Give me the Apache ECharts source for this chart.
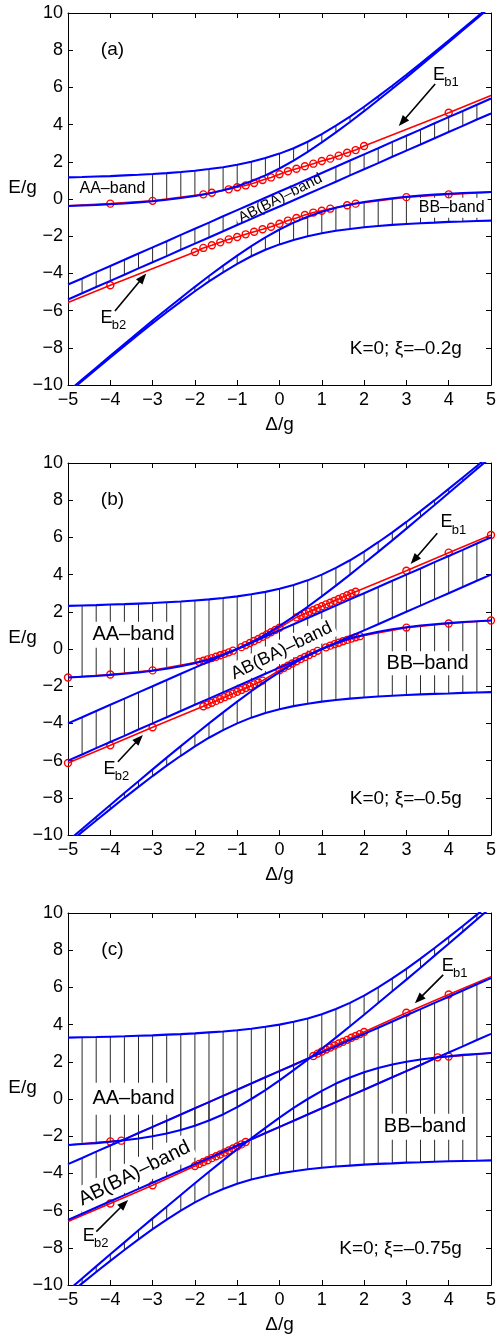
<!DOCTYPE html>
<html><head><meta charset="utf-8">
<script src="https://cdn.jsdelivr.net/npm/echarts@6/dist/echarts.min.js"></script>
<style>html,body{margin:0;padding:0;background:#fff;} #c{width:497px;height:1336px;}</style>
</head><body><div id="c"></div>
<script>
// ---------- data ----------
const deltaGrid = [-5, -4.6667, -4.3333, -4, -3.6667, -3.3333, -3, -2.6667, -2.3333, -2, -1.6667, -1.3333, -1, -0.6667, -0.3333, 0, 0.3333, 0.6667, 1, 1.3333, 1.6667, 2, 2.3333, 2.6667, 3, 3.3333, 3.6667, 4, 4.3333, 4.6667, 5];
const xTicks = [-5, -4, -3, -2, -1, 0, 1, 2, 3, 4, 5];
const yTicks = [-10, -8, -6, -4, -2, 0, 2, 4, 6, 8, 10];

// panel (a), xi = -0.2g
const aaUpA = [1.16, 1.18, 1.21, 1.23, 1.27, 1.30, 1.34, 1.39, 1.45, 1.52, 1.61, 1.71, 1.84, 2.00, 2.20, 2.44, 2.73, 3.08, 3.49, 3.94, 4.43, 4.96, 5.52, 6.09, 6.68, 7.28, 7.90, 8.52, 9.15, 9.78, 10.42];
const aaLoA = [-0.38, -0.35, -0.32, -0.28, -0.24, -0.18, -0.12, -0.04, 0.05, 0.16, 0.30, 0.47, 0.69, 0.95, 1.27, 1.64, 2.06, 2.53, 3.04, 3.58, 4.14, 4.72, 5.32, 5.93, 6.54, 7.17, 7.80, 8.43, 9.07, 9.71, 10.36];
const abUpA = [-4.6, -4.27, -3.93, -3.6, -3.27, -2.93, -2.6, -2.27, -1.93, -1.6, -1.27, -0.93, -0.6, -0.27, 0.07, 0.4, 0.73, 1.07, 1.4, 1.73, 2.07, 2.4, 2.73, 3.07, 3.4, 3.73, 4.07, 4.4, 4.73, 5.07, 5.4];
const abLoA = [-5.4, -5.07, -4.73, -4.4, -4.07, -3.73, -3.4, -3.07, -2.73, -2.4, -2.07, -1.73, -1.4, -1.07, -0.73, -0.4, -0.07, 0.27, 0.6, 0.93, 1.27, 1.6, 1.93, 2.27, 2.6, 2.93, 3.27, 3.6, 3.93, 4.27, 4.6];
const bbUpA = [-10.36, -9.71, -9.07, -8.43, -7.80, -7.17, -6.54, -5.93, -5.32, -4.72, -4.14, -3.58, -3.04, -2.53, -2.06, -1.64, -1.27, -0.95, -0.69, -0.47, -0.30, -0.16, -0.05, 0.04, 0.12, 0.18, 0.24, 0.28, 0.32, 0.35, 0.38];
const bbLoA = [-10.42, -9.78, -9.15, -8.52, -7.90, -7.28, -6.68, -6.09, -5.52, -4.96, -4.43, -3.94, -3.49, -3.08, -2.73, -2.44, -2.20, -2.00, -1.84, -1.71, -1.61, -1.52, -1.45, -1.39, -1.34, -1.30, -1.27, -1.23, -1.21, -1.18, -1.16];
const eb1A_d = [-5, -4, -3, -1.8, -1.6, -1.2, -1.0, -0.8, -0.6, -0.4, -0.2, 0, 0.2, 0.4, 0.6, 0.8, 1.0, 1.2, 1.4, 1.6, 1.8, 2.0, 4.0, 5];
const eb1A_e = [-0.36, -0.25, -0.10, 0.25, 0.34, 0.52, 0.63, 0.73, 0.86, 1.02, 1.16, 1.33, 1.49, 1.63, 1.76, 1.90, 2.04, 2.17, 2.33, 2.49, 2.63, 2.85, 4.64, 5.56];
const eb2A_d = [-5, -4, -2.0, -1.8, -1.6, -1.4, -1.2, -1.0, -0.8, -0.6, -0.4, -0.2, 0, 0.2, 0.4, 0.6, 0.8, 1.0, 1.2, 1.6, 1.8, 3, 4, 5];
const eb2A_e = [-5.56, -4.64, -2.85, -2.63, -2.49, -2.33, -2.17, -2.04, -1.90, -1.76, -1.63, -1.49, -1.33, -1.16, -1.02, -0.86, -0.73, -0.63, -0.52, -0.34, -0.25, 0.10, 0.25, 0.36];

// panel (b), xi = -0.5g
const aaUpB = [2.32, 2.34, 2.36, 2.39, 2.41, 2.44, 2.47, 2.51, 2.55, 2.61, 2.67, 2.74, 2.83, 2.94, 3.07, 3.24, 3.44, 3.69, 4.00, 4.36, 4.77, 5.24, 5.74, 6.27, 6.83, 7.41, 8.00, 8.61, 9.22, 9.84, 10.47];
const aaLoB = [-1.53, -1.49, -1.45, -1.39, -1.33, -1.26, -1.17, -1.06, -0.93, -0.76, -0.56, -0.31, 0.00, 0.36, 0.77, 1.24, 1.74, 2.27, 2.83, 3.41, 4.00, 4.61, 5.22, 5.84, 6.47, 7.11, 7.74, 8.39, 9.03, 9.68, 10.32];
const abUpB = [-4, -3.67, -3.33, -3, -2.67, -2.33, -2, -1.67, -1.33, -1, -0.67, -0.33, 0, 0.33, 0.67, 1, 1.33, 1.67, 2, 2.33, 2.67, 3, 3.33, 3.67, 4, 4.33, 4.67, 5, 5.33, 5.67, 6];
const abLoB = [-6, -5.67, -5.33, -5, -4.67, -4.33, -4, -3.67, -3.33, -3, -2.67, -2.33, -2, -1.67, -1.33, -1, -0.67, -0.33, 0, 0.33, 0.67, 1, 1.33, 1.67, 2, 2.33, 2.67, 3, 3.33, 3.67, 4];
const bbUpB = [-10.32, -9.68, -9.03, -8.39, -7.74, -7.11, -6.47, -5.84, -5.22, -4.61, -4.00, -3.41, -2.83, -2.27, -1.74, -1.24, -0.77, -0.36, 0.00, 0.31, 0.56, 0.76, 0.93, 1.06, 1.17, 1.26, 1.33, 1.39, 1.45, 1.49, 1.53];
const bbLoB = [-10.47, -9.84, -9.22, -8.61, -8.00, -7.41, -6.83, -6.27, -5.74, -5.24, -4.77, -4.36, -4.00, -3.69, -3.44, -3.24, -3.07, -2.94, -2.83, -2.74, -2.67, -2.61, -2.55, -2.51, -2.47, -2.44, -2.41, -2.39, -2.36, -2.34, -2.32];
const eb1B_d = [-5, -4, -3, -1.9, -1.8, -1.7, -1.6, -1.5, -1.4, -1.3, -1.2, -1.1, -0.9, -0.8, -0.7, -0.6, -0.5, -0.4, -0.3, -0.2, -0.1, 0, 0.4, 0.5, 0.6, 0.7, 0.8, 0.9, 1.0, 1.1, 1.2, 1.3, 1.4, 1.5, 1.6, 1.7, 1.8, 3, 4, 5];
const eb1B_e = [-1.53, -1.37, -1.15, -0.69, -0.63, -0.56, -0.49, -0.42, -0.34, -0.26, -0.18, -0.09, 0.10, 0.21, 0.32, 0.43, 0.54, 0.66, 0.78, 0.90, 1.02, 1.14, 1.70, 1.80, 1.90, 2.00, 2.10, 2.20, 2.30, 2.40, 2.49, 2.59, 2.69, 2.79, 2.89, 2.98, 3.08, 4.21, 5.18, 6.13];
const eb2B_d = [-5, -4, -3, -1.8, -1.7, -1.6, -1.5, -1.4, -1.3, -1.2, -1.1, -1.0, -0.9, -0.8, -0.7, -0.6, -0.5, -0.4, 0, 0.1, 0.2, 0.3, 0.4, 0.5, 0.6, 0.7, 0.8, 0.9, 1.1, 1.2, 1.3, 1.4, 1.5, 1.6, 1.7, 1.8, 1.9, 3, 4, 5];
const eb2B_e = [-6.13, -5.18, -4.21, -3.08, -2.98, -2.89, -2.79, -2.69, -2.59, -2.49, -2.40, -2.30, -2.20, -2.10, -2.00, -1.90, -1.80, -1.70, -1.14, -1.02, -0.90, -0.78, -0.66, -0.54, -0.43, -0.32, -0.21, -0.10, 0.09, 0.18, 0.26, 0.34, 0.42, 0.49, 0.56, 0.63, 0.69, 1.15, 1.37, 1.53];

// panel (c), xi = -0.75g
const aaUpC = [3.30, 3.32, 3.33, 3.35, 3.37, 3.40, 3.42, 3.46, 3.49, 3.53, 3.58, 3.63, 3.70, 3.78, 3.88, 4.00, 4.15, 4.33, 4.56, 4.84, 5.17, 5.56, 6.00, 6.48, 7.00, 7.55, 8.12, 8.70, 9.30, 9.91, 10.53];
const aaLoC = [-2.47, -2.42, -2.37, -2.30, -2.22, -2.12, -2.00, -1.85, -1.67, -1.44, -1.16, -0.83, -0.44, 0.00, 0.48, 1.00, 1.55, 2.12, 2.70, 3.30, 3.91, 4.53, 5.16, 5.79, 6.42, 7.06, 7.71, 8.35, 9.00, 9.65, 10.30];
const abUpC = [-3.5, -3.17, -2.83, -2.5, -2.17, -1.83, -1.5, -1.17, -0.83, -0.5, -0.17, 0.17, 0.5, 0.83, 1.17, 1.5, 1.83, 2.17, 2.5, 2.83, 3.17, 3.5, 3.83, 4.17, 4.5, 4.83, 5.17, 5.5, 5.83, 6.17, 6.5];
const abLoC = [-6.5, -6.17, -5.83, -5.5, -5.17, -4.83, -4.5, -4.17, -3.83, -3.5, -3.17, -2.83, -2.5, -2.17, -1.83, -1.5, -1.17, -0.83, -0.5, -0.17, 0.17, 0.5, 0.83, 1.17, 1.5, 1.83, 2.17, 2.5, 2.83, 3.17, 3.5];
const bbUpC = [-10.30, -9.65, -9.00, -8.35, -7.71, -7.06, -6.42, -5.79, -5.16, -4.53, -3.91, -3.30, -2.70, -2.12, -1.55, -1.00, -0.48, 0.00, 0.44, 0.83, 1.16, 1.44, 1.67, 1.85, 2.00, 2.12, 2.22, 2.30, 2.37, 2.42, 2.47];
const bbLoC = [-10.53, -9.91, -9.30, -8.70, -8.12, -7.55, -7.00, -6.48, -6.00, -5.56, -5.17, -4.84, -4.56, -4.33, -4.15, -4.00, -3.88, -3.78, -3.70, -3.63, -3.58, -3.53, -3.49, -3.46, -3.42, -3.40, -3.37, -3.35, -3.33, -3.32, -3.30];
const eb1C_d = [-5, -4, -3.74, 0.8, 0.9, 1.0, 1.1, 1.2, 1.3, 1.4, 1.5, 1.6, 1.7, 1.8, 1.9, 2.0, 3, 4, 5];
const eb1C_e = [-2.47, -2.28, -2.24, 2.31, 2.44, 2.55, 2.66, 2.77, 2.88, 2.98, 3.08, 3.18, 3.29, 3.39, 3.49, 3.60, 4.64, 5.62, 6.58];
const eb2C_d = [-5, -4, -3, -2.0, -1.9, -1.8, -1.7, -1.6, -1.5, -1.4, -1.3, -1.2, -1.1, -1.0, -0.9, -0.8, 3.74, 4, 5];
const eb2C_e = [-6.58, -5.62, -4.64, -3.60, -3.49, -3.39, -3.29, -3.18, -3.08, -2.98, -2.88, -2.77, -2.66, -2.55, -2.44, -2.31, 2.24, 2.28, 2.47];

// ---------- layout / style ----------
const FONT = '"Liberation Sans", Arial, Helvetica, sans-serif';
const panels = [
  { top: 13, aaUp: aaUpA, aaLo: aaLoA, abUp: abUpA, abLo: abLoA, bbUp: bbUpA, bbLo: bbLoA,
    eb: [[eb1A_d, eb1A_e], [eb2A_d, eb2A_e]], endDots: false, tag: '(a)', param: 'K=0; \u03BE=\u20130.2g',
    aa: [-3.95, 0.54, 16, [7, 3]], bb: [4.07, -0.47, 16, [2, 3]], ab: [0.02, 0.04, 15, [1, 3], 27],
    e1: [3.77, 6.67], a1: [[3.68, 6.18], [2.82, 3.92]], e2: [-4.09, -6.41], a2: [[-3.89, -6.02], [-3.15, -4.0]] },
  { top: 463, aaUp: aaUpB, aaLo: aaLoB, abUp: abUpB, abLo: abLoB, bbUp: bbUpB, bbLo: bbLoB,
    eb: [[eb1B_d, eb1B_e], [eb2B_d, eb2B_e]], endDots: true, tag: '(b)', param: 'K=0; \u03BE=\u20130.5g',
    aa: [-3.45, 0.77, 20, [3, 2]], bb: [3.5, -0.77, 20, [2, 2]], ab: [0.05, -0.1, 18, [2, 3], 26],
    e1: [3.95, 6.80], a1: [[3.73, 6.22], [3.10, 4.57]], e2: [-4.02, -6.47], a2: [[-3.82, -6.06], [-3.23, -4.62]] },
  { top: 913, aaUp: aaUpC, aaLo: aaLoC, abUp: abUpC, abLo: abLoC, bbUp: bbUpC, bbLo: bbLoC,
    eb: [[eb1C_d, eb1C_e], [eb2C_d, eb2C_e]], endDots: false, tag: '(c)', param: 'K=0; \u03BE=\u20130.75g',
    aa: [-3.45, 0.02, 20, [6, 2]], bb: [3.44, -1.49, 20, [3, 3]], ab: [-3.43, -4.0, 20, [3, 3], 26.6],
    e1: [3.98, 7.16], a1: [[3.87, 6.67], [3.20, 5.15]], e2: [-4.51, -7.37], a2: [[-4.33, -7.13], [-3.58, -5.43]] }
];

const fmt = v => (v < 0 ? '\u2212' + Math.abs(v) : String(v));

function xAx(i, pos) {
  return { type: 'value', gridIndex: i, min: xTicks[0], max: xTicks[xTicks.length - 1], interval: 1, position: pos,
    axisLine: { show: true, onZero: false, lineStyle: { color: '#000', width: 1 } },
    axisTick: { show: true, inside: true, length: 5, lineStyle: { color: '#000', width: 1 } },
    axisLabel: { show: pos === 'bottom', color: '#000', fontSize: 18, fontFamily: FONT, margin: 6, formatter: fmt,
      showMinLabel: true, showMaxLabel: true, hideOverlap: false },
    splitLine: { show: false } };
}
function yAx(i, pos) {
  return { type: 'value', gridIndex: i, min: yTicks[0], max: yTicks[yTicks.length - 1], interval: 2, position: pos,
    axisLine: { show: true, onZero: false, lineStyle: { color: '#000', width: 1 } },
    axisTick: { show: true, inside: true, length: 5, lineStyle: { color: '#000', width: 1 } },
    axisLabel: { show: pos === 'left', color: '#000', fontSize: 18, fontFamily: FONT, margin: 5, formatter: fmt,
      showMinLabel: true, showMaxLabel: true, hideOverlap: false },
    splitLine: { show: false } };
}

const grids = [], xAxes = [], yAxes = [], series = [];
panels.forEach((p, i) => {
  grids.push({ left: 68, top: p.top, width: 423, height: 372, containLabel: false, outerBoundsMode: 'none' });
  xAxes.push(xAx(i, 'bottom'), xAx(i, 'top'));
  yAxes.push(yAx(i, 'left'), yAx(i, 'right'));
  const hatch = [];
  for (let k = 1; k < deltaGrid.length - 1; k++) {
    hatch.push([deltaGrid[k], p.aaLo[k], p.aaUp[k]]);
    hatch.push([deltaGrid[k], p.abLo[k], p.abUp[k]]);
    hatch.push([deltaGrid[k], p.bbLo[k], p.bbUp[k]]);
  }
  series.push({ type: 'custom', xAxisIndex: 2 * i, yAxisIndex: 2 * i, data: hatch, z: 1, silent: true,
    encode: { x: 0, y: [1, 2] },
    renderItem: (params, api) => {
      const c = v => Math.max(-10, Math.min(10, v));
      const a = api.coord([api.value(0), c(api.value(1))]);
      const b = api.coord([api.value(0), c(api.value(2))]);
      return { type: 'line', shape: { x1: a[0], y1: a[1], x2: b[0], y2: b[1] }, style: { stroke: '#111', lineWidth: 0.9 } };
    } });
  p.eb.forEach(([d, e]) => {
    series.push({ type: 'line', xAxisIndex: 2 * i, yAxisIndex: 2 * i, z: 3, silent: true, clip: true,
      data: d.map((x, k) => ({ value: [x, e[k]], symbol: (!p.endDots && Math.abs(x) === 5) ? 'none' : 'circle' })),
      symbol: 'circle', symbolSize: 7, showSymbol: true, showAllSymbol: true,
      itemStyle: { color: 'rgba(255,255,255,0)', borderColor: '#ff0000', borderWidth: 1.4 },
      lineStyle: { color: '#ff0000', width: 1.6 } });
  });
  [p.aaUp, p.aaLo, p.abUp, p.abLo, p.bbUp, p.bbLo].forEach(arr => {
    series.push({ type: 'line', xAxisIndex: 2 * i, yAxisIndex: 2 * i, z: 4, silent: true, clip: true,
      data: deltaGrid.map((d, k) => [d, arr[k]]), showSymbol: false, symbol: 'none',
      lineStyle: { color: '#0000ff', width: 2.1 } });
  });
});

const chart = echarts.init(document.getElementById('c'), null, { renderer: 'canvas' });
chart.setOption({ animation: false, backgroundColor: '#fff', grid: grids, xAxis: xAxes, yAxis: yAxes, series });

// ---------- annotations ----------
const G = [];
function txt(pt, text, size, o) {
  o = o || {};
  const style = { text, font: size + 'px ' + FONT, fill: '#000', align: o.align || 'center', verticalAlign: 'middle',
    textAlign: o.align || 'center', textVerticalAlign: 'middle' };
  if (o.pad) { style.backgroundColor = '#fff'; style.padding = o.pad; }
  G.push({ type: 'text', x: pt[0], y: pt[1], rotation: (o.rot || 0) * Math.PI / 180, z: o.z || 10, silent: true, style });
}
function arrow(a, b) {
  const dx = b[0] - a[0], dy = b[1] - a[1], L = Math.hypot(dx, dy), ux = dx / L, uy = dy / L;
  const hl = 11, hw = 4.2, bx = b[0] - ux * hl, by = b[1] - uy * hl;
  G.push({ type: 'line', z: 10, silent: true, shape: { x1: a[0], y1: a[1], x2: bx + ux, y2: by + uy }, style: { stroke: '#000', lineWidth: 1.6 } });
  G.push({ type: 'polygon', z: 10, silent: true, shape: { points: [[b[0], b[1]], [bx - uy * hw, by + ux * hw], [bx + uy * hw, by - ux * hw]] }, style: { fill: '#000' } });
}
panels.forEach((p, i) => {
  const P = (x, y) => chart.convertToPixel({ xAxisIndex: 2 * i, yAxisIndex: 2 * i }, [x, y]);
  txt(P(-3.95, 8.0), p.tag, 19);
  txt(P(p.aa[0], p.aa[1]), 'AA\u2013band', p.aa[2], { pad: p.aa[3], z: 2 });
  txt(P(p.bb[0], p.bb[1]), 'BB\u2013band', p.bb[2], { pad: p.bb[3], z: 2 });
  txt(P(p.ab[0], p.ab[1]), 'AB(BA)\u2013band', p.ab[2], { pad: p.ab[3], z: 2, rot: p.ab[4] });
  txt(P(4.31, -8.05), p.param, 19, { align: 'right' });
  const e1 = P(p.e1[0], p.e1[1]), e2 = P(p.e2[0], p.e2[1]);
  txt(e1, 'E', 18); txt([e1[0] + 12.5, e1[1] + 7.5], 'b1', 13);
  txt(e2, 'E', 18); txt([e2[0] + 12.5, e2[1] + 7.5], 'b2', 13);
  arrow(P(p.a1[0][0], p.a1[0][1]), P(p.a1[1][0], p.a1[1][1]));
  arrow(P(p.a2[0][0], p.a2[0][1]), P(p.a2[1][0], p.a2[1][1]));
  const yl = P(0, 0.58), bottom = P(0, -10);
  txt([22.5, yl[1]], 'E/g', 19);
  txt([bottom[0], bottom[1] + 40], '\u0394/g', 19);
});
chart.setOption({ graphic: G });
</script>
</body></html>
